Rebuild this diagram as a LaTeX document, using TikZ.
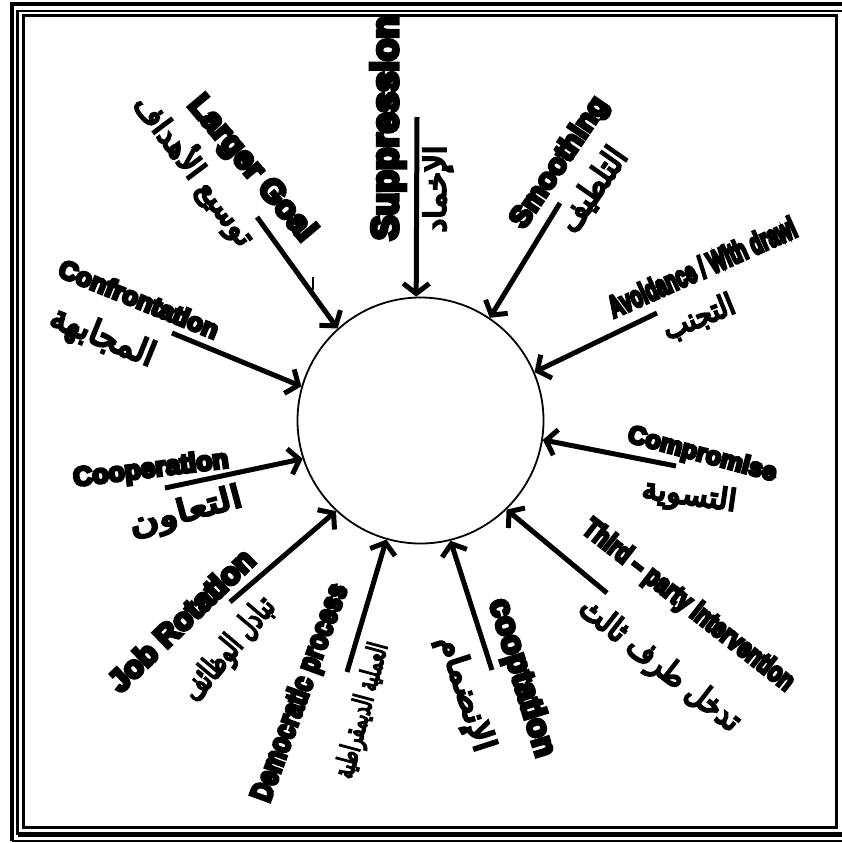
\documentclass[tikz,border=0pt]{standalone}
\usepackage{fontspec}
\usetikzlibrary{arrows.meta}
\TeXXeTstate=1
\newfontfamily\enfont[FakeBold=11]{Liberation Sans Bold}
\newfontfamily\arfont[Script=Arabic,FakeBold=7]{DejaVu Sans}
\newcommand\lab[3]{\scalebox{#2}[1]{\enfont\fontsize{#1}{#1}\selectfont #3}}
\newcommand\arlab[3]{\resizebox*{#1pt}{#2pt}{\arfont\fontsize{20}{24}\selectfont #3}}
\begin{document}
\begin{tikzpicture}[x=1pt,y=-1pt,
  arr/.style={line width=5pt,-{Straight Barb[length=10pt,width=26pt]}},
  en/.style={inner sep=0pt},
  ar/.style={inner sep=0pt}]
\useasboundingbox (0,0) rectangle (841,843);
% frame
\draw[line width=4pt] (12,841) -- (12,4) -- (860,4);
\draw[line width=2.5pt] (12,841) -- (860,841);
\draw[line width=2.5pt] (17.5,834.5) -- (17.5,11) -- (860,11);
\draw[line width=5pt] (17.5,834.5) -- (860,834.5);
\draw[line width=3pt] (23.5,15.5) rectangle (836.5,827.5);
% circle
\node[circle,draw,line width=1.8pt,minimum size=246pt,inner sep=0pt] (c) at (420.5,420.5) {};
% arrow tails
\coordinate (t1) at (417,117);
\coordinate (t2) at (257,217);
\coordinate (t3) at (560,203);
\coordinate (t4) at (657,313);
\coordinate (t5) at (676,466);
\coordinate (t6) at (607,593);
\coordinate (t7) at (492,670);
\coordinate (t8) at (347,672);
\coordinate (t9) at (230,602);
\coordinate (t10) at (165,488);
\coordinate (t11) at (172,333);
\draw[arr] (t1) -- (c.92);
\draw[arr] (t2) -- (c.132);
\draw[arr] (t3) -- (c.56);
\draw[arr] (t4) -- (c.23);
\draw[arr] (t5) -- (c.-9);
\draw[arr] (t6) -- (c.-46);
\draw[arr] (t7) -- (c.-76);
\draw[arr] (t8) -- (c.-106);
\draw[arr] (t9) -- (c.-133);
\draw[arr] (t10) -- (c.-162);
\draw[arr] (t11) -- (c.164);
\draw[line width=1.5pt] (313,277) -- (313,290);
% English labels
\node[en,rotate=90] (e1) at (388,128) {\lab{37}{1}{Suppression}};
\node[en,rotate=-50] (e2) at (251,169) {\lab{32}{1}{Larger Goal}};
\node[en,rotate=56] (e3) at (560,163) {\lab{29}{1}{Smoothing}};
\node[en,rotate=24] (e4) at (702,267) {\lab{30}{0.62}{Avoidance / With drawl}};
\node[en,rotate=-15] (e5) at (702,455) {\lab{25}{1}{Compromise}};
\node[en,rotate=-38] (e6) at (688,606) {\lab{28}{0.77}{Third – party intervention}};
\node[en,rotate=-73] (e7) at (521,678) {\lab{32}{1}{cooptation}};
\node[en,rotate=70] (e8) at (301,693) {\lab{30}{0.8}{Democratic process}};
\node[en,rotate=44] (e9) at (181,620) {\lab{31}{1}{Job Rotation}};
\node[en,rotate=7] (e10) at (151,470) {\lab{26.5}{1}{Cooperation}};
\node[en,rotate=-22] (e11) at (139,299) {\lab{25.7}{1}{Confrontation}};
% Arabic labels
\node[ar,rotate=90] (a1) at (438,189) {\arlab{87}{30}{\beginR الإخماد\endR}};
\node[ar,rotate=-53] (a2) at (195,170) {\arlab{180}{36}{\beginR توسيع الأهداف\endR}};
\node[ar,rotate=55] (a3) at (593,190) {\arlab{95}{30}{\beginR التلطيف\endR}};
\node[ar,rotate=22] (a4) at (699,318) {\arlab{75}{28}{\beginR التجنب\endR}};
\node[ar,rotate=-8] (a5) at (689,497) {\arlab{95}{30}{\beginR التسوية\endR}};
\node[ar,rotate=-38] (a6) at (659,666) {\arlab{196}{32}{\beginR تدخل طرف ثالث\endR}};
\node[ar,rotate=-72] (a7) at (465,694) {\arlab{120}{32}{\beginR الإنضمام\endR}};
\node[ar,rotate=75] (a8) at (363,711) {\arlab{139}{27}{\beginR العملية الديمقراطية\endR}};
\node[ar,rotate=50] (a9) at (230,650) {\arlab{125}{32}{\beginR تبادل الوظائف\endR}};
\node[ar,rotate=15] (a10) at (186,513) {\arlab{116}{32}{\beginR التعاون\endR}};
\node[ar,rotate=-22] (a11) at (102,338) {\arlab{110}{34}{\beginR المجابهة\endR}};
\end{tikzpicture}
\end{document}
